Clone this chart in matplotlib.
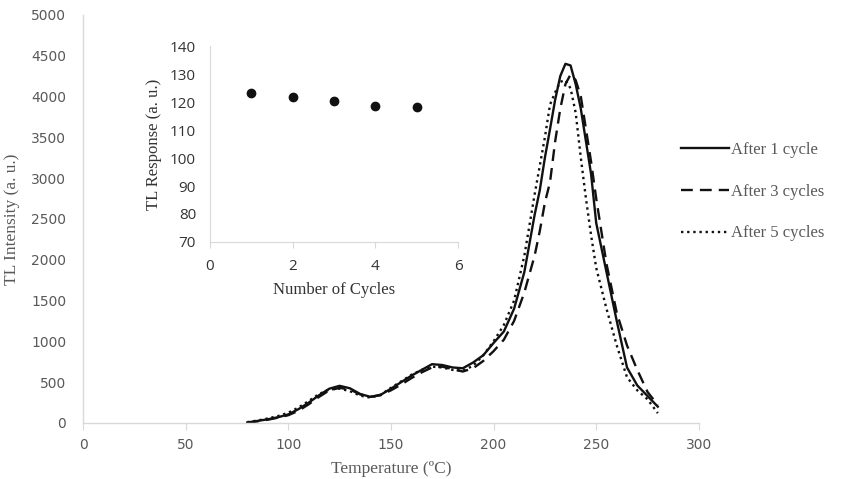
import numpy as np
import matplotlib
matplotlib.use('Agg')
import matplotlib.pyplot as plt

# glow curves
temp = [80, 85, 90, 95, 100, 105, 110, 115, 120, 125, 130, 135, 140, 145, 150,
        155, 160, 165, 170, 175, 180, 185, 190, 195, 200, 205, 210, 215, 220,
        222.5, 225, 227.5, 230, 232.5, 235, 237.5, 240, 242.5, 245, 247.5, 250,
        255, 260, 265, 270, 275, 280]
cycle1 = [5, 25, 45, 70, 105, 170, 250, 340, 420, 455, 425, 355, 320, 345, 420,
          500, 580, 650, 720, 710, 680, 670, 740, 830, 980, 1120, 1400, 1850, 2550,
          2850, 3250, 3600, 3960, 4250, 4400, 4380, 4150, 3850, 3450, 3050, 2450,
          1850, 1250, 680, 460, 330, 200]
cycle3 = [5, 20, 40, 65, 95, 150, 230, 320, 400, 430, 410, 350, 320, 340, 400,
          470, 550, 620, 680, 690, 660, 630, 670, 760, 880, 1020, 1250, 1600, 2050,
          2350, 2700, 2950, 3450, 3850, 4150, 4270, 4200, 4000, 3600, 3200, 2750,
          1950, 1350, 950, 650, 380, 220]
cycle5 = [10, 30, 55, 85, 125, 190, 270, 355, 410, 420, 390, 335, 310, 345, 430,
          510, 590, 650, 690, 680, 650, 640, 700, 830, 1000, 1200, 1500, 2050, 2800,
          3150, 3500, 3900, 4050, 4180, 4200, 4100, 3800, 3250, 2750, 2300, 1900,
          1400, 950, 560, 400, 290, 120]

# inset: TL response vs number of cycles
n_cycles = [1, 2, 3, 4, 5]
response = [123.5, 121.8, 120.5, 118.5, 118.3]
resp_err = [0.7, 0.8, 1.2, 1.0, 0.9]

grey = '#595959'
spine_c = '#d9d9d9'
tick_font = ['Liberation Sans Narrow', 'DejaVu Sans']
serif = ['Liberation Serif', 'DejaVu Serif']

fig = plt.figure(figsize=(8.43, 4.79), dpi=100)
ax = fig.add_axes([0.0985, 0.117, 0.7305, 0.852])

l1, = ax.plot(temp, cycle1, color='#111111', lw=1.7, ls='-')
l3, = ax.plot(temp, cycle3, color='#111111', lw=1.7, ls=(0, (5, 3)))
l5, = ax.plot(temp, cycle5, color='#111111', lw=1.7, ls=(0, (1, 1.6)))

ax.set_xlim(0, 300)
ax.set_ylim(0, 5000)
ax.set_xticks(np.arange(0, 301, 50))
ax.set_yticks(np.arange(0, 5001, 500))
for s in ['top', 'right']:
    ax.spines[s].set_visible(False)
for s in ['left', 'bottom']:
    ax.spines[s].set_color(spine_c)
    ax.spines[s].set_linewidth(1)
ax.tick_params(axis='x', length=5, color=spine_c, labelcolor=grey, pad=6)
ax.tick_params(axis='y', length=0, labelcolor=grey, pad=12)
for lab in ax.get_xticklabels() + ax.get_yticklabels():
    lab.set_family(tick_font)
    lab.set_fontsize(10)
ax.set_xlabel('Temperature (ºC)', family=serif, fontsize=12.5, color=grey, labelpad=6)
ax.set_ylabel('TL Intensity (a. u.)', family=serif, fontsize=12.5, color=grey, labelpad=8)

fig.legend([l1, l3, l5], ['After 1 cycle', 'After 3 cycles', 'After 5 cycles'],
           loc='center left', bbox_to_anchor=(0.79, 0.60), frameon=False,
           handlelength=2.9, handletextpad=0.1, labelspacing=1.55,
           prop={'family': serif, 'size': 12}, labelcolor=grey)

# inset
ins = fig.add_axes([0.249, 0.495, 0.2943, 0.408])
ins.errorbar(n_cycles, response, yerr=resp_err, fmt='o', color='#111111',
             ms=6, ecolor='#999999', elinewidth=1, capsize=2)
ins.set_xlim(0, 6)
ins.set_ylim(70, 140)
ins.set_xticks(np.arange(0, 7, 2))
ins.set_yticks(np.arange(70, 141, 10))
for s in ['top', 'right']:
    ins.spines[s].set_visible(False)
for s in ['left', 'bottom']:
    ins.spines[s].set_color(spine_c)
ins.tick_params(axis='x', length=4, color=spine_c, labelcolor='#333333', pad=8)
ins.tick_params(axis='y', length=0, labelcolor='#333333', pad=10)
for lab in ins.get_xticklabels() + ins.get_yticklabels():
    lab.set_family(['Open Sans', 'DejaVu Sans'])
    lab.set_fontsize(11)
ins.set_xlabel('Number of Cycles', family=serif, fontsize=12, color='#333333', labelpad=6)
ins.set_ylabel('TL Response (a. u.)', family=serif, fontsize=12, color='#333333', labelpad=6)

fig.savefig('out.png', dpi=100)
